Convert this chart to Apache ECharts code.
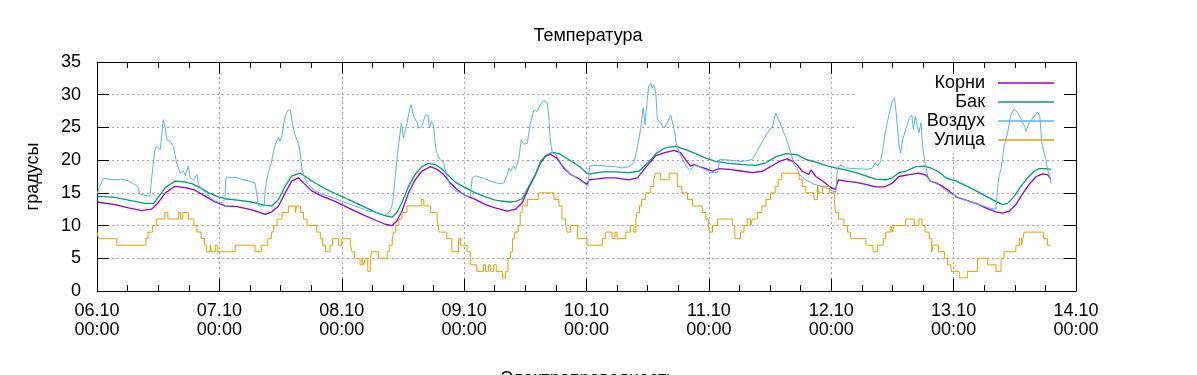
<!DOCTYPE html>
<html><head><meta charset="utf-8">
<script src="https://cdn.jsdelivr.net/npm/echarts@6/dist/echarts.min.js"></script>
<style>html,body{margin:0;padding:0;background:#fff}#c{width:1197px;height:375px}</style>
</head><body><div id="c"></div>
<script>
// hours since 06.10 00:00
const seriesNames = ['Корни', 'Бак', 'Воздух', 'Улица'];
const dayLabels = ['06.10','07.10','08.10','09.10','10.10','11.10','12.10','13.10','14.10'];
const yTicks = [0,5,10,15,20,25,30,35];

const korniT = [0,3.5,6.2,8.8,10.7,12.0,13.4,15.3,17.3,19.2,21.2,23.2,25.1,27.5,30.4,33.0,34.3,35.6,36.9,38.2,39.5,40.8,42.1,44.1,46.7,49.3,52.0,55.0,56.5,57.9,58.8,59.8,61.1,62.4,63.7,65.4,66.7,68.0,69.3,70.6,72.2,74.2,76.2,78.1,80.4,82.1,83.4,84.7,86.0,87.0,88.0,88.9,90.2,91.5,92.9,94.2,95.5,96.1,96.5,97.8,99.7,101.7,104.3,106.0,107.3,108.6,109.6,111.5,113.2,114.5,115.4,116.4,117.1,118.1,119.4,120.7,122.0,124.0,126.6,128.5,130.5,132.1,133.8,135.4,136.7,137.4,138.3,139.6,140.0,141.0,142.3,143.6,144.8,145.4,146.8,148.8,150.8,152.7,154.4,156.0,157.3,159.3,161.2,162.6,163.5,164.9,165.8,167.1,168.5,170.4,172.4,174.3,176.3,177.6,178.9,180.2,181.5,182.8,184.2,185.5,186.4,187.1];
const korniV = [13.6,13.2,12.7,12.3,12.5,13.5,15.0,16.0,15.8,15.4,14.5,13.6,13.0,12.9,12.4,11.7,12.1,13.0,15.0,16.8,17.3,16.3,15.3,14.5,13.7,12.7,11.7,10.7,10.2,10.0,10.7,12.2,15.0,17.0,18.3,19.0,18.6,17.8,16.5,15.5,14.6,14.0,13.2,12.7,12.2,12.5,13.5,15.8,17.8,19.6,20.6,20.9,20.3,18.8,17.8,17.3,16.6,16.3,17.0,17.1,17.3,17.3,17.0,17.3,18.6,19.8,20.7,21.2,21.5,21.1,20.1,19.1,19.3,19.0,18.7,18.3,18.7,18.6,18.3,18.1,18.3,19.0,19.8,20.2,19.7,19.2,18.3,17.8,18.5,17.5,16.8,16.0,15.5,17.0,16.8,16.6,16.3,15.9,15.9,16.5,17.5,17.8,18.0,17.7,16.8,16.4,16.0,15.3,14.4,13.9,13.4,12.7,12.1,11.9,12.2,13.2,14.8,16.3,17.5,17.9,17.8,17.1];

const bakT = [0,3.5,6.2,9.4,11.1,12.0,13.4,15.3,17.0,18.6,20.2,21.9,23.8,25.1,27.5,30.4,33.0,34.3,35.6,36.9,38.2,39.9,41.2,42.8,44.8,46.7,49.3,52.0,55.0,56.5,57.9,58.8,59.8,61.1,62.4,63.7,65.0,66.4,67.7,69.0,70.3,72.2,74.2,76.2,78.1,80.8,82.1,83.4,84.7,86.0,87.0,88.0,89.3,90.6,92.5,94.5,96.1,96.8,99.1,101.7,104.3,106.3,107.9,109.2,109.6,111.5,113.5,115.4,117.4,119.4,121.3,124.0,126.6,129.2,131.2,133.1,135.1,137.4,139.0,141.0,142.9,144.9,146.8,148.8,150.8,152.7,154.7,156.0,157.3,158.6,160.6,162.2,163.5,164.9,166.5,168.5,170.4,172.4,174.3,176.3,177.6,178.6,179.9,181.2,182.5,183.8,184.8,186.1,187.1];
const bakV = [14.5,14.3,13.9,13.4,13.4,14.3,15.8,16.8,16.7,16.4,15.8,15.0,14.4,14.1,13.9,13.6,13.1,13.0,14.0,16.0,17.6,18.0,17.3,16.5,15.6,14.9,14.0,13.0,11.9,11.5,11.3,12.0,13.5,16.0,17.8,19.0,19.5,19.3,18.6,17.6,16.6,15.8,15.0,14.4,13.9,13.6,13.7,14.1,16.0,17.8,19.8,20.7,21.2,21.0,20.1,19.1,18.0,17.9,18.2,18.2,18.1,18.3,19.5,20.6,21.0,21.9,22.1,21.6,21.0,20.3,19.8,19.5,19.3,19.2,19.6,20.5,21.0,20.8,20.1,19.7,19.2,18.8,18.5,18.1,17.6,17.1,17.0,17.3,18.1,18.3,19.0,19.1,18.8,18.3,17.3,16.8,16.1,15.3,14.5,13.7,13.2,13.4,14.5,16.0,17.3,18.3,18.7,18.7,18.6];

const vozduhT = [0,0.3,1.25,3.5,4.8,6.2,7.3,8.0,8.4,10.4,10.7,11.3,11.7,12.4,13.0,13.4,13.7,14.3,15.0,15.6,16.3,17.0,17.3,17.9,18.3,18.9,19.6,19.9,20.6,21.9,23.2,24.5,25.1,25.3,27.5,31.0,31.3,31.7,32.8,33.0,33.3,33.6,34.2,34.6,35.3,35.6,35.9,36.3,36.9,37.4,37.9,38.3,38.7,39.2,39.5,39.9,40.2,40.5,41.2,41.8,42.1,42.8,44.1,46.1,48.0,50.6,53.3,54.6,56.5,57.5,58.0,58.5,59.0,59.7,60.1,60.8,61.3,61.6,62.1,62.8,63.1,63.7,64.4,64.9,65.2,65.6,66.0,66.4,66.7,67.3,68.0,68.6,69.3,70.3,71.3,72.2,73.2,73.6,74.2,75.5,77.2,78.8,79.8,80.4,80.8,81.1,81.7,82.1,82.7,83.2,83.7,84.4,85.0,85.7,86.3,87.0,87.6,88.3,88.6,88.9,89.3,89.9,90.6,91.2,92.5,93.5,94.5,95.5,96.3,96.6,97.8,99.7,101.7,103.0,104.3,105.3,106.0,106.6,107.1,107.5,107.9,108.2,108.6,108.9,109.2,109.5,109.6,109.9,110.5,111.2,111.8,112.5,112.8,113.2,113.6,114.1,114.8,115.8,116.4,117.1,118.1,119.4,120.4,121.7,122.1,124.0,126.6,128.5,129.5,130.5,131.5,132.5,133.1,133.4,134.1,135.1,136.1,136.7,137.4,137.7,139.0,140.3,141.6,142.9,144.2,144.9,145.2,145.5,146.2,146.8,148.8,151.1,152.1,152.6,153.1,153.7,154.2,154.7,155.4,156.0,156.4,156.8,157.3,157.6,158.0,158.6,159.3,159.8,160.1,160.5,160.9,161.2,161.6,161.9,162.4,162.9,163.5,164.9,165.8,167.1,168.5,169.8,171.1,173.0,175.0,176.3,176.6,176.9,177.3,177.9,178.6,179.2,179.9,180.6,181.2,181.9,182.2,182.8,183.8,184.5,184.9,185.3,185.6,185.9,186.1,186.4,186.8,187.1];
const vozduhV = [14.8,15.5,17.2,17.0,17.1,16.8,16.3,16.0,14.8,14.5,17.0,21.4,22.1,21.6,26.2,24.9,23.1,22.9,22.1,19.6,18.1,18.3,17.6,19.1,17.3,17.0,17.8,16.3,15.5,14.5,13.7,13.5,14.0,17.4,17.3,16.5,15.0,13.0,13.0,15.5,17.0,18.1,19.6,21.4,23.1,23.5,22.9,23.9,26.7,27.6,27.7,25.7,24.2,23.1,22.6,20.9,18.6,17.8,16.5,16.0,16.3,15.3,14.8,14.3,13.7,13.0,12.2,12.1,11.6,12.2,13.5,17.6,21.4,25.7,23.4,25.7,27.7,28.5,26.7,25.7,24.9,25.2,26.9,26.9,24.9,25.9,25.2,22.1,20.9,20.1,19.6,17.6,16.0,15.3,15.0,14.6,14.4,17.3,17.6,17.3,16.8,16.4,16.5,17.6,18.8,18.3,19.1,18.6,20.1,23.1,22.4,22.6,25.7,27.7,27.4,28.5,29.1,28.7,26.7,23.1,21.1,20.9,20.1,19.3,18.1,17.6,17.0,16.5,16.0,19.1,19.2,19.1,19.0,18.8,19.0,19.6,22.1,24.7,28.0,25.4,29.2,31.3,31.8,31.0,31.5,30.7,30.2,26.2,25.7,24.9,25.7,26.9,26.7,24.7,22.6,21.4,20.1,18.8,18.5,19.2,19.0,18.5,18.1,18.1,20.1,20.0,19.8,20.1,21.4,22.9,24.2,25.2,27.2,26.7,25.4,23.4,21.1,19.3,18.6,17.8,17.0,16.4,16.1,15.8,15.3,15.1,18.6,19.1,19.2,18.8,18.7,18.6,18.8,19.6,19.1,19.8,22.1,24.7,27.2,29.2,29.5,26.7,22.1,21.1,23.1,24.7,26.4,26.9,24.7,26.7,25.2,24.2,25.7,22.1,19.6,17.6,16.8,16.3,15.8,15.0,14.5,14.0,13.7,13.2,12.7,12.5,15.5,17.6,18.6,22.1,24.2,26.9,27.8,27.2,26.3,25.2,24.4,25.7,26.7,27.3,26.7,22.6,22.4,20.6,20.1,18.6,17.6,16.5];

const ulicaT = [0,0.3,3.9,9.6,10.0,10.9,11.7,13.3,13.9,16.0,16.4,16.8,17.9,19.0,19.6,20.4,21.1,21.5,22.2,22.5,23.2,23.6,27.1,31.0,32.2,33.5,34.2,34.6,35.3,36.3,37.6,38.9,39.2,39.9,40.5,41.2,43.1,43.8,44.2,44.8,45.7,46.2,47.4,48.0,49.7,50.0,50.5,51.6,52.0,52.3,52.6,53.1,53.6,53.9,55.2,56.9,57.3,57.9,58.2,58.6,59.2,59.8,60.8,63.6,64.1,65.4,66.7,66.9,67.1,68.6,69.6,70.9,71.3,72.6,73.2,74.5,75.8,76.2,76.8,77.2,77.8,78.3,79.5,80.1,80.6,81.1,81.5,81.9,82.6,83.0,83.4,84.4,86.6,89.6,90.6,91.2,91.9,92.2,92.9,94.2,96.1,99.1,99.7,101.0,101.6,102.0,103.7,104.6,105.3,105.7,105.9,106.4,106.8,107.6,108.6,109.2,109.5,110.5,112.2,113.8,114.7,115.8,116.8,118.7,119.4,119.9,120.2,120.7,121.7,124.6,125.1,126.2,126.9,127.5,128.2,128.5,129.5,130.4,131.2,132.1,133.0,133.6,134.3,137.7,138.3,139.0,140.6,141.3,141.6,142.3,143.6,144.6,144.8,145.4,146.5,147.2,147.8,150.8,152.2,153.1,154.2,154.7,155.7,156.0,156.3,158.6,160.3,161.2,161.8,162.4,163.2,163.7,164.0,165.0,166.2,166.8,167.5,169.1,170.7,172.7,174.7,176.3,177.3,177.9,180.2,180.9,181.3,181.6,181.8,185.6,186.4,187.1];
const ulicaV = [9,8,7,8,9,10,11,12,11,12,11,12,11,10,9,8,7,6,7,6,7,6,7,6,7,8,9,10,11,12,13,12,13,12,11,10,9,8,7,6,7,8,7,8,7,6,5,4,5,4,5,3,5,6,5,6,7,8,9,10,11,12,13,14,13,12,11,10,9,8,6,8,7,6,4,3,4,3,4,3,4,3,2,3,5,6,8,9,10,12,13,14,15,14,13,11,10,9,10,8,7,8,9,8,9,8,9,10,9,11,12,13,14,15,16,17,18,17,18,16,15,14,13,12,11,10,9,10,11,10,8,9,10,11,10,11,12,13,14,15,16,17,18,17,16,15,14,16,15,16,15,14,12,11,10,9,8,7,6,7,8,9,10,9,10,11,10,11,10,9,8,6,7,6,5,4,3,2,3,5,4,3,5,6,7,8,7,8,9,8,7,7];

const FONT = 'Liberation Sans';
const colors = ['#9400d3', '#009e73', '#56b4e9', '#e69f00'];
const pairs = (t, v) => t.map((x, i) => [x, v[i]]);
const dataSets = [pairs(korniT, korniV), pairs(bakT, bakV), pairs(vozduhT, vozduhV), pairs(ulicaT, ulicaV)];

const chart = echarts.init(document.getElementById('c'));
const xBase = {
  type: 'value', min: 0, max: 192, interval: 24,
  axisLine: { show: true, onZero: false, lineStyle: { color: '#000', width: 1 } },
  axisTick: { show: true, inside: true, length: 12, lineStyle: { color: '#000' } },
  minorTick: { show: true, splitNumber: 4, length: 6, lineStyle: { color: '#000' } },
  minorSplitLine: { show: false }
};
const yBase = {
  type: 'value', min: 0, max: 35, interval: 5,
  axisLine: { show: true, onZero: false, lineStyle: { color: '#000', width: 1 } },
  axisTick: { show: true, inside: true, length: 12, lineStyle: { color: '#000' } }
};
const grid = '#a0a0a0';
chart.setOption({
  animation: false,
  backgroundColor: '#fff',
  title: [
    { text: 'Температура', left: 583, top: 22, textAlign: 'center',
      textStyle: { fontFamily: FONT, fontSize: 18, fontWeight: 'normal', color: '#000' } },
    { text: 'Электропроводность', left: 583, top: 365, textAlign: 'center',
      textStyle: { fontFamily: FONT, fontSize: 18, fontWeight: 'normal', color: '#000' } }
  ],
  grid: { left: 97, top: 62, width: 979, height: 229, outerBoundsMode: 'none', containLabel: false },
  legend: seriesNames.map((n, i) => ({
    data: [n], right: 143, top: 73 + i * 19, orient: 'horizontal', align: 'right',
    itemWidth: 56, itemHeight: 1.5, icon: 'rect', padding: 0, selectedMode: false,
    textStyle: { fontFamily: FONT, fontSize: 18, color: '#000', lineHeight: 20, padding: [0, 8, 0, 0] }
  })),
  graphic: [{ type: 'rect', z: 1, shape: { x: 856, y: 63, width: 218, height: 90 }, style: { fill: '#fff' } }],
  xAxis: [
    Object.assign({}, xBase, {
      position: 'bottom',
      axisLabel: { fontFamily: FONT, fontSize: 18, color: '#000', lineHeight: 19, margin: 11,
        formatter: v => dayLabels[Math.round(v / 24)] + '\n00:00' },
      splitLine: { show: true, lineStyle: { color: grid, width: 1, type: [2, 3] } }
    }),
    Object.assign({}, xBase, { position: 'top', z: 5, axisLabel: { show: false }, splitLine: { show: false } })
  ],
  yAxis: [
    Object.assign({}, yBase, {
      position: 'left',
      name: 'градусы', nameLocation: 'middle', nameGap: 55, nameRotate: 90,
      nameTextStyle: { fontFamily: FONT, fontSize: 18, color: '#000' },
      axisLabel: { fontFamily: FONT, fontSize: 18, color: '#000', margin: 16,
        formatter: v => (yTicks.indexOf(v) >= 0 ? String(v) : '') },
      splitLine: { show: true, lineStyle: { color: grid, width: 1, type: [2, 3] } }
    }),
    Object.assign({}, yBase, { position: 'right', z: 5, axisLabel: { show: false }, splitLine: { show: false } })
  ],
  series: seriesNames.map((n, i) => ({
    name: n, type: 'line', data: dataSets[i], xAxisIndex: 0, yAxisIndex: 0,
    showSymbol: false, symbol: 'none', z: 2 + i * 0.01,
    step: i === 3 ? 'end' : false,
    color: colors[i],
    lineStyle: { color: colors[i], width: i < 2 ? 1.3 : 1 },
    itemStyle: { color: colors[i] }
  }))
});
</script>
</body></html>
